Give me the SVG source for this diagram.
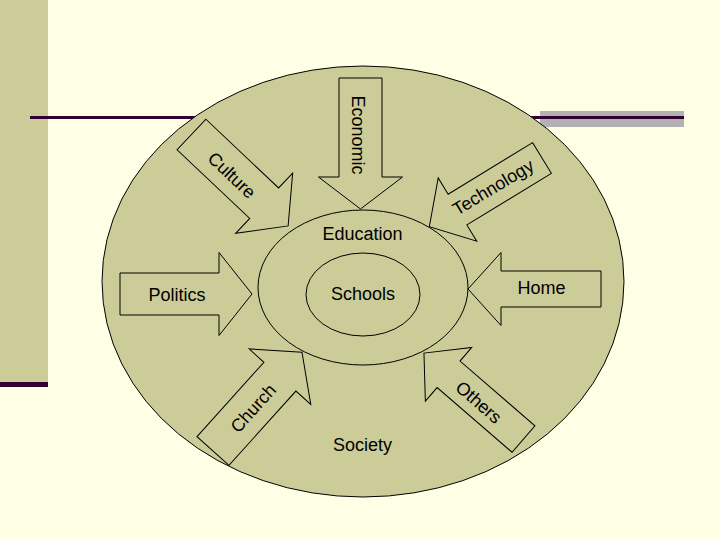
<svg xmlns="http://www.w3.org/2000/svg" width="720" height="540" viewBox="0 0 720 540">
<style>
.fill{fill:#CCCC99;stroke:#000;stroke-width:1}
.arr{fill:#CCCC99;stroke:#000;stroke-width:1;stroke-linejoin:miter}
.t{font-family:"Liberation Sans",Arial,sans-serif;font-size:18px;fill:#000;text-anchor:middle}
</style>
<rect x="0" y="0" width="720" height="540" fill="#FFFFE5"/>
<g id="decor">
<rect x="0" y="0" width="48" height="382" fill="#CCCC99"/>
<rect x="0" y="382" width="48" height="5" fill="#330033"/>
<rect x="540" y="111" width="144" height="16" fill="#B2B2B2"/>
<rect x="30" y="116" width="654" height="3" fill="#330033"/>
</g>
<g id="society">
<ellipse class="fill" cx="363" cy="281.5" rx="261" ry="215.5"/>
<text class="t" x="362.5" y="451">Society</text>
</g>
<g id="education">
<ellipse class="fill" cx="363" cy="287.5" rx="105" ry="77.5"/>
<text class="t" x="362.5" y="240">Education</text>
</g>
<g id="schools">
<ellipse class="fill" cx="363" cy="294.5" rx="57" ry="41.5"/>
<text class="t" x="363" y="300">Schools</text>
</g>
<g id="connectors">
<g id="politics" transform="translate(120,294)">
<polygon class="arr" points="0,-21 99,-21 99,-41.5 132,0 99,41.5 99,21 0,21"/>
<text class="t" x="57" y="7">Politics</text>
</g>
<g id="home" transform="translate(601,289) rotate(180)">
<polygon class="arr" points="0,-18 100,-18 100,-36.5 133,0 100,36.5 100,18 0,18"/>
</g>
<text class="t" x="541.5" y="294">Home</text>
<g id="economic" transform="translate(360.5,78) rotate(90)">
<polygon class="arr" points="0,-21.5 99,-21.5 99,-42 131,0 99,42 99,21.5 0,21.5"/>
</g>
<text class="t" transform="translate(358,135) rotate(90)" x="0" y="6.5">Economic</text>
<g id="culture" transform="translate(191.5,134.5) rotate(43.4)">
<polygon class="arr" points="0,-21 100,-21 100,-41.5 133,0 100,41.5 100,21 0,21"/>
</g>
<text class="t" transform="translate(232,175) rotate(43.4)" x="0" y="6.5">Culture</text>
<g id="technology" transform="translate(542,158) rotate(148.6)">
<polygon class="arr" points="0,-18 99,-18 99,-37 132,0 99,37 99,18 0,18"/>
</g>
<text class="t" transform="translate(493,187) rotate(-31)" x="0" y="6.5">Technology</text>
<g id="church" transform="translate(213,451) rotate(-48)">
<polygon class="arr" points="0,-21.5 100,-21.5 100,-41.5 133,0 100,41.5 100,21.5 0,21.5"/>
</g>
<text class="t" transform="translate(253,408) rotate(-48)" x="0" y="6.5">Church</text>
<g id="others" transform="translate(523.5,439) rotate(-139.2)">
<polygon class="arr" points="0,-17.5 99,-17.5 99,-35.5 131.5,0 99,35.5 99,17.5 0,17.5"/>
</g>
<text class="t" transform="translate(479,402) rotate(41)" x="0" y="6.5">Others</text>
</g>
</svg>
